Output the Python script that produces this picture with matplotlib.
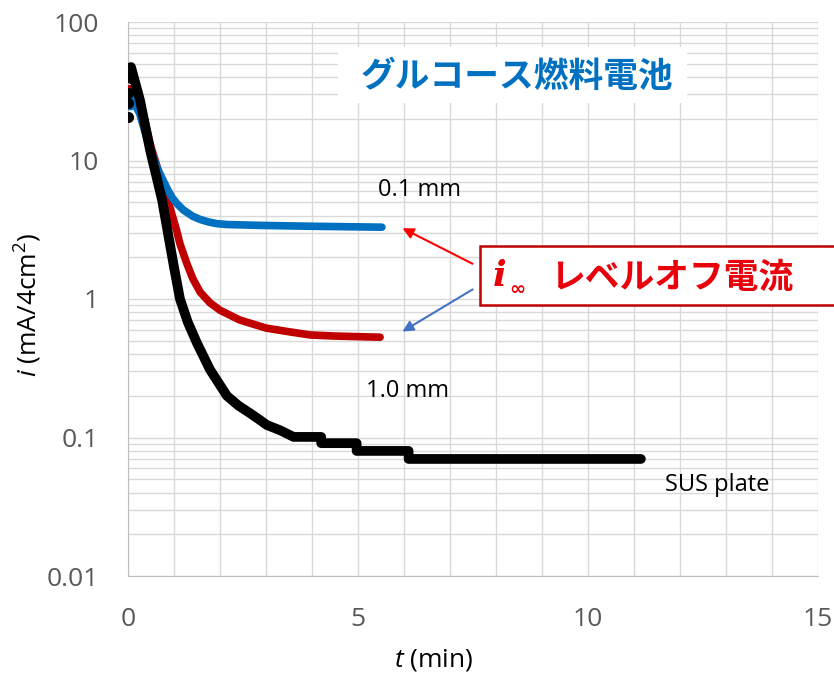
import matplotlib.pyplot as plt
from matplotlib.patches import Rectangle

plt.rcParams['mathtext.fontset'] = 'custom'
plt.rcParams['mathtext.rm'] = 'Open Sans'
plt.rcParams['mathtext.it'] = 'Open Sans:italic'

# data (t in min, i in mA/4cm2)
black_t = [0.065, 0.26, 0.48, 0.74, 0.91, 1.0, 1.13, 1.3, 1.5, 1.78, 2.15, 2.4, 2.65,
           2.85, 3.02, 3.3, 3.6, 4.2, 4.2, 4.97, 4.97, 6.1, 6.1, 11.15]
black_i = [47.3, 27.3, 11.9, 5.2, 2.5, 1.7, 1.0, 0.68, 0.48, 0.31, 0.2, 0.17, 0.15,
           0.135, 0.123, 0.113, 0.101, 0.101, 0.091, 0.091, 0.080, 0.080, 0.070, 0.070]
black_start_i = [20.6, 26.0, 30.6, 39.4]

red_t = [0.03, 0.3, 0.5, 0.8, 0.91, 1.06, 1.13, 1.28, 1.41, 1.57, 1.78, 2.0, 2.43,
         3.0, 3.5, 3.96, 4.5, 5.48]
red_i = [33.0, 24.0, 12.5, 6.0, 4.6, 3.1, 2.5, 1.8, 1.4, 1.12, 0.94, 0.83, 0.705,
         0.617, 0.58, 0.55, 0.54, 0.53]
red_start_i = [26.5, 33.0]

blue_t = [0.03, 0.25, 0.45, 0.65, 0.78, 0.87, 0.96, 1.06, 1.2, 1.41, 1.57, 1.75, 1.93,
          2.15, 2.87, 4.0, 5.52]
blue_i = [30.0, 22.0, 13.0, 8.6, 7.0, 6.1, 5.4, 4.9, 4.4, 3.95, 3.75, 3.6, 3.5,
          3.45, 3.4, 3.35, 3.3]
blue_start_i = [25.2, 28.0]

yticks = [0.01, 0.1, 1, 10, 100]
ytick_labels = ['0.01', '0.1', '1', '10', '100']
xticks = [0, 5, 10, 15]

W, H = 834, 680
fig = plt.figure(figsize=(W / 100, H / 100), dpi=100)
ax = fig.add_axes([128 / W, 1 - 576 / H, 690 / W, 554 / H])

ax.set_yscale('log')
ax.set_xlim(0, 15)
ax.set_ylim(0.01, 100)
ax.set_xticks(xticks)
ax.set_xticks(range(16), minor=True)
ax.set_yticks(yticks)
ax.set_yticklabels(ytick_labels)
ax.grid(True, which='both', color='#d9d9d9', lw=1)
ax.set_axisbelow(True)
ax.tick_params(which='both', length=0)
ax.tick_params(axis='y', pad=21, labelsize=19, labelcolor='#595959')
ax.tick_params(axis='x', pad=22, labelsize=19, labelcolor='#595959')
for lab in ax.get_xticklabels() + ax.get_yticklabels():
    lab.set_fontfamily('Open Sans')
for s in ['top', 'right']:
    ax.spines[s].set_visible(False)
for s in ['left', 'bottom']:
    ax.spines[s].set_color('#bfbfbf')

ax.plot(red_t, red_i, color='#c00000', lw=5.5, solid_capstyle='round',
        solid_joinstyle='round', zorder=3)
ax.plot([0, 0], red_start_i, ls='none', marker='D', ms=4, color='#c00000', zorder=3)
ax.plot(blue_t, blue_i, color='#0070c0', lw=5.5, solid_capstyle='round',
        solid_joinstyle='round', zorder=4)
ax.plot([0, 0], blue_start_i, ls='none', marker='^', ms=6, color='#0070c0', zorder=4)
ax.plot(black_t, black_i, color='black', lw=7, solid_capstyle='round',
        solid_joinstyle='round', zorder=5)
ax.plot([0, 0, 0, 0.06], black_start_i, ls='none', marker='o', ms=7, color='black', zorder=5)

# labels
fig.text(28 / W, 1 - 305 / H, r'$\it{i}$ (mA/4cm$^2$)', rotation=90, ha='center',
         va='center', fontsize=19, family='Open Sans')
fig.text(434 / W, 1 - 660 / H, r'$\it{t}$ (min)', ha='center', va='center',
         fontsize=19, family='Open Sans')

fig.text(420 / W, 1 - 190 / H, '0.1 mm', ha='center', va='center', fontsize=17, family='Open Sans')
fig.text(408 / W, 1 - 391 / H, '1.0 mm', ha='center', va='center', fontsize=17, family='Open Sans')
fig.text(717 / W, 1 - 485 / H, 'SUS plate', ha='center', va='center', fontsize=17, family='Open Sans')

# title box
fig.patches.append(Rectangle((338 / W, 1 - 103 / H), 349 / W, 56 / H, transform=fig.transFigure,
                             facecolor='white', edgecolor='none', zorder=1))
fig.text(517 / W, 1 - 76 / H, 'グルコース燃料電池', ha='center', va='center', fontsize=25,
         fontweight='bold', color='#0070c0', family=['Noto Sans CJK JP', 'DejaVu Sans'], zorder=3)

# level-off current box
fig.patches.append(Rectangle((480 / W, 1 - 305 / H), 370 / W, 59 / H, transform=fig.transFigure,
                             facecolor='white', edgecolor='#c00000', lw=1.8, zorder=1,
                             clip_on=False))
fig.text(500 / W, 1 - 276 / H, 'i', ha='center', va='center', fontsize=26, fontweight='bold',
         style='italic', color='#e8000b', family='DejaVu Serif', zorder=3)
fig.text(517 / W, 1 - 289 / H, '∞', ha='center', va='center', fontsize=14, fontweight='bold',
         color='#e8000b', family='DejaVu Sans', zorder=3)
fig.text(550 / W, 1 - 277 / H, 'レベルオフ電流', ha='left', va='center', fontsize=25,
         fontweight='bold', color='#e8000b', family=['Noto Sans CJK JP', 'DejaVu Sans'], zorder=3)

ax.annotate('', xy=(400 / W, 1 - 227 / H), xytext=(475 / W, 1 - 265 / H),
            xycoords='figure fraction', textcoords='figure fraction',
            arrowprops=dict(arrowstyle='-|>', color='#ff0000', lw=1.5, mutation_scale=16))
ax.annotate('', xy=(400 / W, 1 - 333 / H), xytext=(475 / W, 1 - 288 / H),
            xycoords='figure fraction', textcoords='figure fraction',
            arrowprops=dict(arrowstyle='-|>', color='#4472c4', lw=1.5, mutation_scale=16))

fig.savefig('out.png', dpi=100)
